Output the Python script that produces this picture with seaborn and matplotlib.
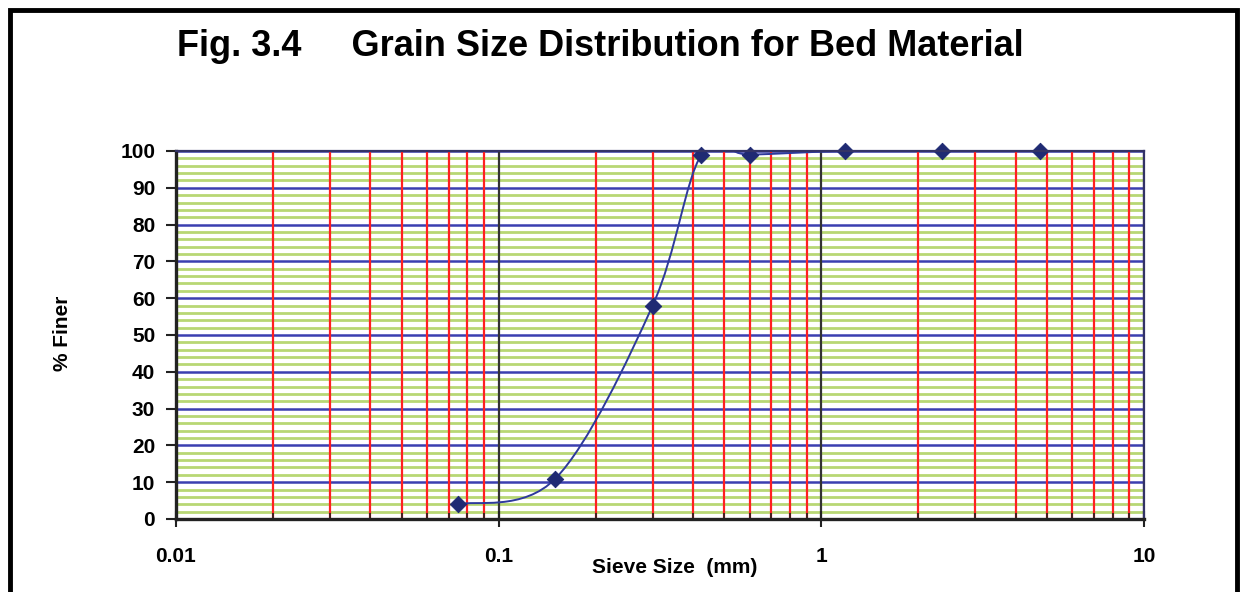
import numpy as np
import matplotlib
matplotlib.use("Agg")
import matplotlib.pyplot as plt
from matplotlib.path import Path
from matplotlib.patches import PathPatch, Rectangle
from matplotlib.ticker import LogLocator, FixedLocator, FuncFormatter
import seaborn as sns

# data
sieve_size = [0.075, 0.15, 0.30, 0.425, 0.60, 1.18, 2.36, 4.75]
pct_finer = [4, 11, 58, 99, 99, 100, 100, 100]
y_ticks = list(range(0, 101, 10))
x_ticks = [0.01, 0.1, 1, 10]

sns.set_style("white")
plt.rcParams['font.family'] = ['Liberation Sans Narrow', 'Liberation Sans', 'DejaVu Sans']
plt.rcParams['font.weight'] = 'bold'
plt.rcParams['text.color'] = 'black'
plt.rcParams['xtick.color'] = 'black'
plt.rcParams['ytick.color'] = 'black'
plt.rcParams['axes.labelcolor'] = 'black'

fig = plt.figure(figsize=(12.46, 5.92), dpi=100)
ax = fig.add_axes([176/1246, 1 - 519/592, (1144-176)/1246, (519-151)/592])

# outer frame of the chart
fig.patches.append(Rectangle((10/1246, -0.05), (1237-10)/1246, 1 - 10/592 + 0.05,
                             transform=fig.transFigure, fill=False, lw=3.5,
                             edgecolor='black', zorder=10))

ax.set_xscale('log')
ax.set_xlim(0.01, 10)
ax.set_ylim(0, 100)

# grid: green minor horizontals, blue major horizontals, red minor / black major verticals
ax.yaxis.set_minor_locator(FixedLocator(np.arange(0, 101, 2)))
ax.yaxis.set_major_locator(FixedLocator(y_ticks))
ax.xaxis.set_major_locator(FixedLocator(x_ticks))
ax.xaxis.set_minor_locator(LogLocator(base=10, subs=np.arange(2, 10)))
ax.xaxis.set_minor_formatter(FuncFormatter(lambda v, p: ''))
ax.xaxis.set_major_formatter(FuncFormatter(lambda v, p: f'{v:g}'))

ax.grid(True, axis='y', which='minor', color='#b8d774', lw=2.0)
ax.grid(True, axis='y', which='major', color='#3b3fb0', lw=1.8)
ax.grid(True, axis='x', which='minor', color='#ff2020', lw=1.6)
ax.grid(True, axis='x', which='major', color='#333333', lw=1.6)
# verticals drawn over horizontals
ax.set_axisbelow(False)
ax.yaxis.set_zorder(0.6)
ax.xaxis.set_zorder(0.7)

# smoothed line (Excel-style) through the points, built in log-x space
lx = np.log10(sieve_size)
yy = np.array(pct_finer, dtype=float)
pts = np.column_stack([lx, yy])
verts = [pts[0]]
codes = [Path.MOVETO]
n = len(pts)
for i in range(n - 1):
    p0 = pts[i - 1] if i > 0 else pts[i]
    p1 = pts[i]
    p2 = pts[i + 1]
    p3 = pts[i + 2] if i + 2 < n else pts[i + 1]
    c1 = p1 + (p2 - p0) / 6
    c2 = p2 - (p3 - p1) / 6
    verts += [c1, c2, p2]
    codes += [Path.CURVE4] * 3
verts = np.array(verts)
verts[:, 0] = 10 ** verts[:, 0]
ax.add_patch(PathPatch(Path(verts, codes), fill=False, edgecolor='#2e3a9c', lw=1.4, zorder=3))

sns.scatterplot(x=sieve_size, y=pct_finer, ax=ax, marker='D', s=70, color='#1f2a73',
                edgecolor='#1f2a73', zorder=4, clip_on=False)

for s in ['left', 'bottom']:
    ax.spines[s].set_color('#222222')
    ax.spines[s].set_linewidth(2.4)
for s in ['top', 'right']:
    ax.spines[s].set_color('#333366')
    ax.spines[s].set_linewidth(1.6)
for s in ax.spines.values():
    s.set_zorder(5)

ax.tick_params(axis='y', which='major', direction='out', length=7, width=1.5,
               color='#222222', labelsize=15, pad=8, left=True)
ax.tick_params(axis='y', which='minor', left=False)
ax.tick_params(axis='x', which='major', direction='inout', length=12, width=1.5,
               color='#222222', labelsize=15, pad=14, bottom=True)
ax.tick_params(axis='x', which='minor', direction='in', length=4, width=1.2,
               color='#222222', bottom=True)
for lab in ax.get_xticklabels() + ax.get_yticklabels():
    lab.set_fontweight('bold')

ax.set_xlabel('Sieve Size  (mm)', fontsize=15, fontweight='bold', labelpad=0)
ax.xaxis.set_label_coords((675 - 176) / (1144 - 176), -(558 - 519) / (519 - 151))
ax.set_ylabel('% Finer', fontsize=15, fontweight='bold')
ax.yaxis.set_label_coords(-(176 - 72) / (1144 - 176), (519 - 333) / (519 - 151))

fig.text(600/1246, 1 - 46/592, 'Fig. 3.4     Grain Size Distribution for Bed Material',
         ha='center', va='center', fontsize=26, fontweight='bold')

fig.savefig('out.png', dpi=100)
